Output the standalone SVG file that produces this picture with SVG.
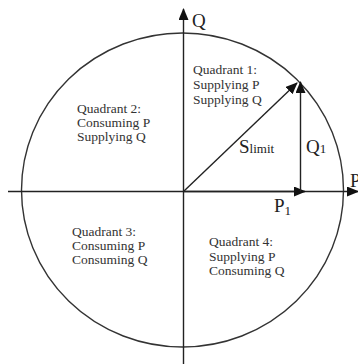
<svg xmlns="http://www.w3.org/2000/svg" width="358" height="364" viewBox="0 0 358 364">
<style>
.t{font-family:"Liberation Serif","Times New Roman",serif;font-size:13.5px;fill:#333}
.b{font-family:"Liberation Serif","Times New Roman",serif;font-size:19px;fill:#222}
.s{font-size:13px}
.ln{stroke:#222;stroke-width:1.4;fill:none}
</style>
<defs>
<marker id="ah" viewBox="0 0 12 10" refX="11" refY="5" markerWidth="12" markerHeight="10" markerUnits="userSpaceOnUse" orient="auto">
<path d="M0,0 L12,5 L0,10 Z" fill="#111"/>
</marker>
</defs>
<rect width="358" height="364" fill="#fff"/>
<g id="circle"><ellipse cx="182.5" cy="190" rx="161" ry="157" fill="none" stroke="#333" stroke-width="1.4"/></g>
<g id="connectors">
<line class="ln" x1="183.5" y1="364" x2="183.5" y2="9" marker-end="url(#ah)"/>
<line class="ln" x1="8" y1="191.5" x2="358" y2="191.5" marker-end="url(#ah)"/>
<line class="ln" x1="183.5" y1="191.5" x2="305" y2="191.5" marker-end="url(#ah)"/>
<line class="ln" x1="300.5" y1="191.5" x2="300.5" y2="82" marker-end="url(#ah)"/>
<line class="ln" x1="183.5" y1="191.5" x2="297" y2="83" marker-end="url(#ah)"/>
</g>
<g id="labels">
<text class="b" x="192" y="27">Q</text>
<text class="b" x="350" y="187">P</text>
<text class="b" x="239" y="153">S<tspan class="s">limit</tspan></text>
<text class="b" x="306" y="153">Q<tspan class="s">1</tspan></text>
<text class="b" x="274" y="212">P<tspan class="s" dy="3">1</tspan></text>
</g>
<g id="q1"><text class="t" x="193" y="74">Quadrant 1:</text><text class="t" x="193" y="89">Supplying P</text><text class="t" x="193" y="104">Supplying Q</text></g>
<g id="q2"><text class="t" x="77" y="113">Quadrant 2:</text><text class="t" x="77" y="127">Consuming P</text><text class="t" x="77" y="141">Supplying Q</text></g>
<g id="q3"><text class="t" x="72" y="236">Quadrant 3:</text><text class="t" x="72" y="250">Consuming P</text><text class="t" x="72" y="264">Consuming Q</text></g>
<g id="q4"><text class="t" x="209" y="246">Quadrant 4:</text><text class="t" x="209" y="261">Supplying P</text><text class="t" x="209" y="275">Consuming Q</text></g>
</svg>
